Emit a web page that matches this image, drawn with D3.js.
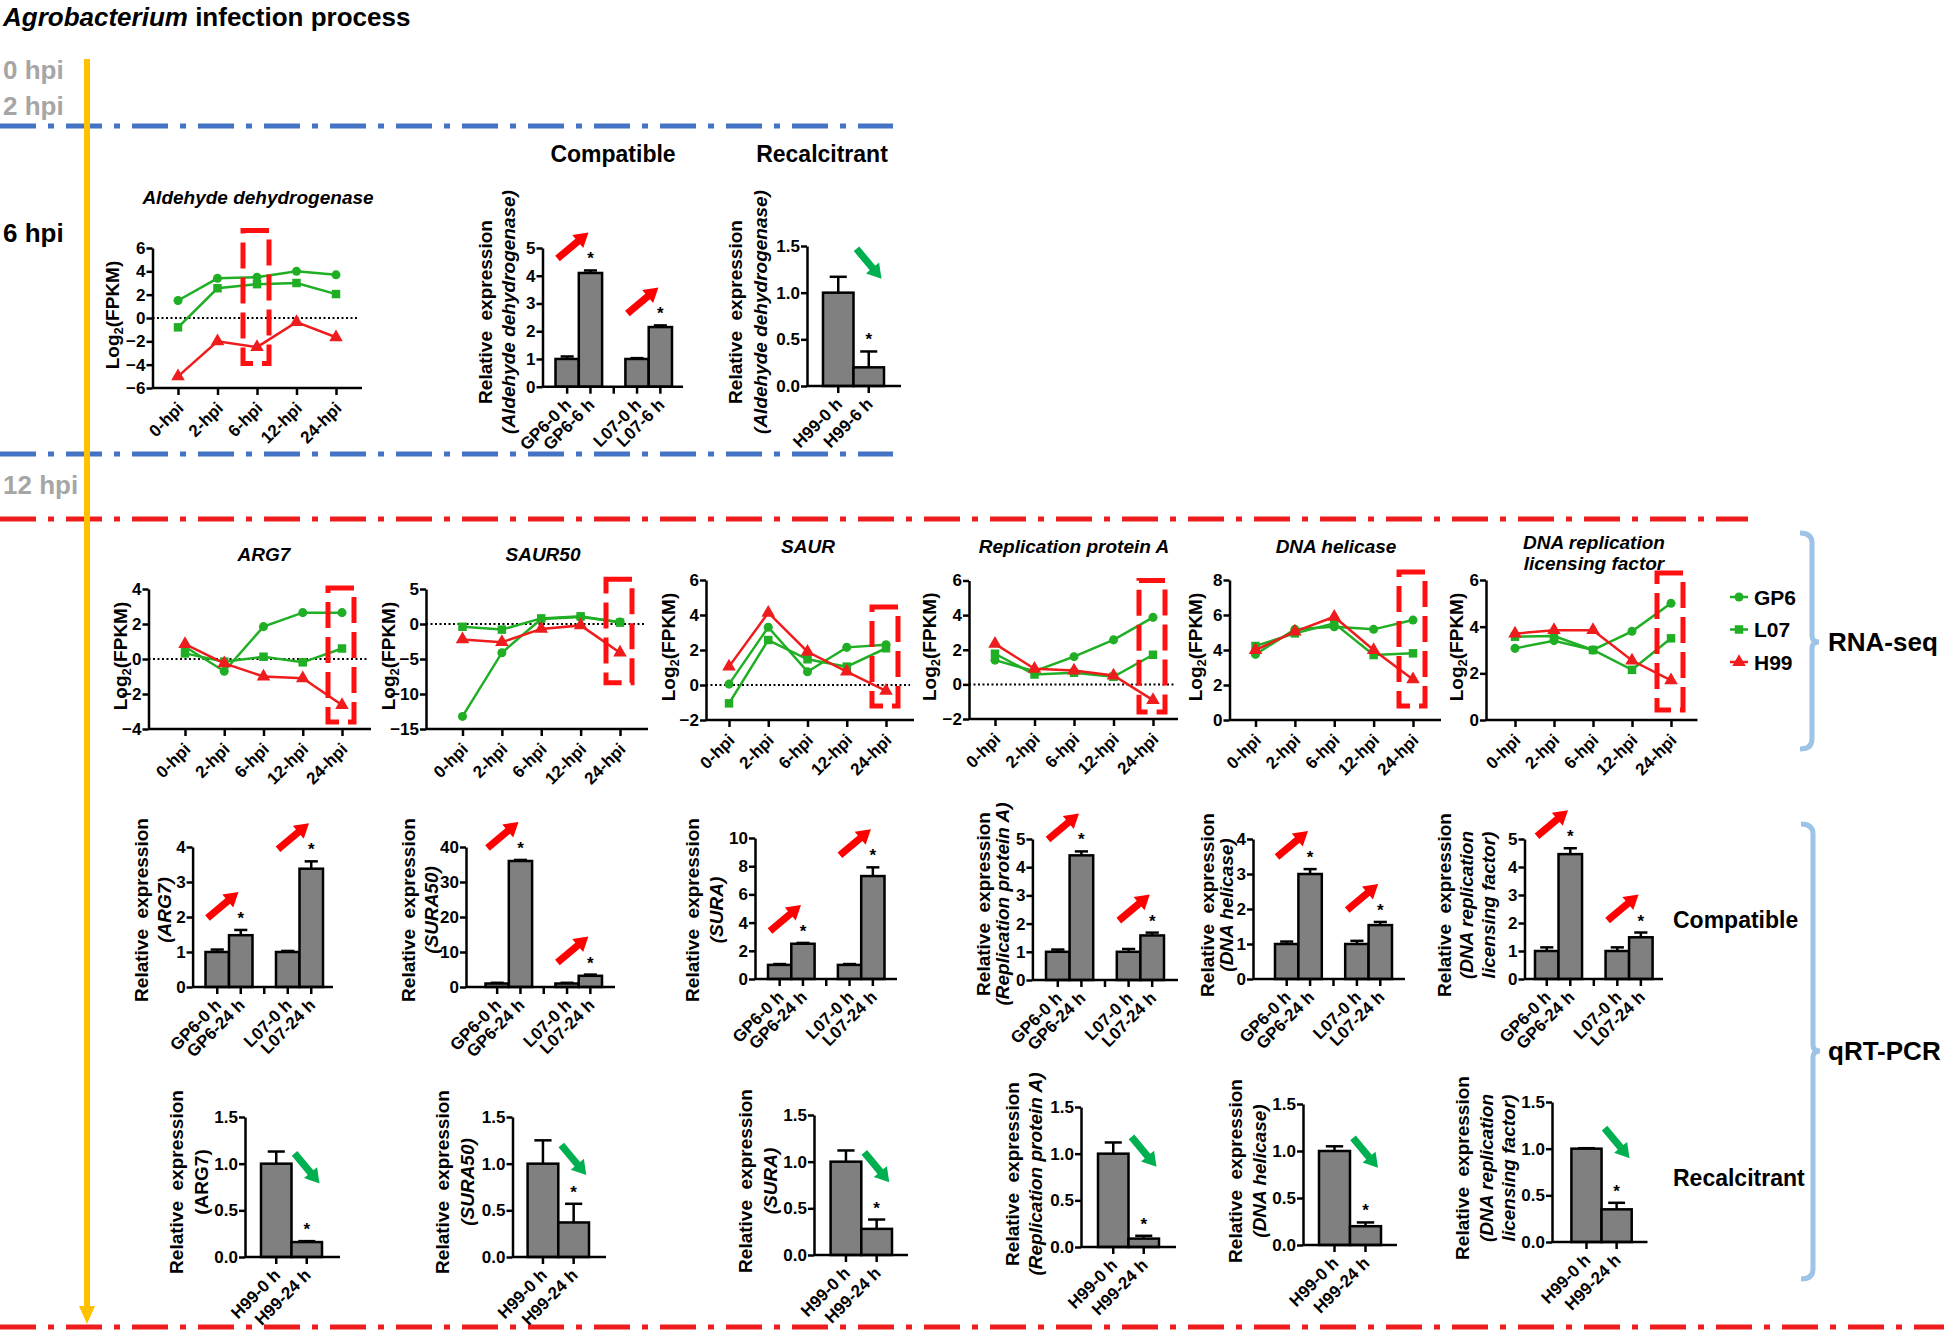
<!DOCTYPE html>
<html>
<head>
<meta charset="utf-8">
<script src="https://cdn.jsdelivr.net/npm/d3@7.9.0/dist/d3.min.js"></script>
<style>
  body { margin: 0; background: #fff; }
  svg { display: block; }
</style>
</head>
<body>
<div id="chart"></div>
<script>
// ---- data ----
const hpi = ['0-hpi', '2-hpi', '6-hpi', '12-hpi', '24-hpi'];
const rnaTitles = [['Aldehyde dehydrogenase'], ['ARG7'], ['SAUR50'], ['SAUR'], ['Replication protein A'], ['DNA helicase'], ['DNA replication', 'licensing factor']];
const rnaTicks = [[-6, -4, -2, 0, 2, 4, 6], [-4, -2, 0, 2, 4], [-15, -10, -5, 0, 5], [-2, 0, 2, 4, 6], [-2, 0, 2, 4, 6], [0, 2, 4, 6, 8], [0, 2, 4, 6]];
const rnaGP6 = [[1.5, 3.4, 3.5, 4.0, 3.7], [0.7, -0.7, 1.85, 2.65, 2.65], [-13.2, -4.1, 0.7, 1.0, 0.3], [0.05, 3.3, 0.76, 2.15, 2.3], [1.4, 0.76, 1.6, 2.57, 3.87], [3.75, 5.18, 5.33, 5.18, 5.71], [3.07, 3.4, 3.0, 3.8, 5.0]];
const rnaL07 = [[-0.8, 2.55, 2.9, 3.0, 2.05], [0.32, -0.15, 0.13, -0.19, 0.6], [-0.4, -0.8, 0.8, 1.1, 0.2], [-1.05, 2.57, 1.47, 1.05, 2.1], [1.77, 0.57, 0.67, 0.44, 1.71], [4.23, 4.95, 5.52, 3.71, 3.81], [3.57, 3.6, 3.0, 2.15, 3.5]];
const rnaH99 = [[-5.0, -2.0, -2.5, -0.35, -1.65], [0.85, -0.25, -1.0, -1.1, -2.63], [-2.2, -2.6, -0.7, -0.2, -4.1], [1.05, 4.13, 1.9, 0.76, -0.34], [2.34, 0.9, 0.8, 0.51, -0.91], [4.0, 5.05, 5.9, 4.0, 2.32], [3.7, 3.85, 3.85, 2.55, 1.7]];

const compatLabels6 = ['GP6-0 h', 'GP6-6 h', 'L07-0 h', 'L07-6 h'];
const compatLabels24 = ['GP6-0 h', 'GP6-24 h', 'L07-0 h', 'L07-24 h'];
const recalcLabels6 = ['H99-0 h', 'H99-6 h'];
const recalcLabels24 = ['H99-0 h', 'H99-24 h'];
const qrtGenes = [['(Aldehyde dehydrogenase)'], ['(ARG7)'], ['(SURA50)'], ['(SURA)'], ['(Replication protein A)'], ['(DNA helicase)'], ['(DNA replication', 'licensing factor)']];
const compatTicks = [[0, 1, 2, 3, 4, 5], [0, 1, 2, 3, 4], [0, 10, 20, 30, 40], [0, 2, 4, 6, 8, 10], [0, 1, 2, 3, 4, 5], [0, 1, 2, 3, 4], [0, 1, 2, 3, 4, 5]];
const compatMean = [[1.0, 4.1, 1.0, 2.15], [1.0, 1.48, 1.0, 3.38], [1.0, 36.0, 1.0, 3.2], [1.0, 2.5, 1.0, 7.3], [1.0, 4.42, 1.0, 1.58], [1.0, 3.0, 1.0, 1.54], [1.0, 4.46, 1.0, 1.49]];
const compatSD = [[0.09, 0.09, 0.03, 0.06], [0.07, 0.15, 0.03, 0.21], [0.2, 0.3, 0.2, 0.35], [0.06, 0.06, 0.06, 0.62], [0.08, 0.14, 0.1, 0.1], [0.07, 0.14, 0.09, 0.09], [0.13, 0.21, 0.13, 0.17]];
const recalcTicks = [0, 0.5, 1.0, 1.5];
const recalcMean = [[1.0, 0.2], [1.0, 0.16], [1.0, 0.37], [1.0, 0.28], [1.0, 0.09], [1.0, 0.2], [1.0, 0.35]];
const recalcSD = [[0.17, 0.17], [0.13, 0.01], [0.25, 0.2], [0.12, 0.1], [0.12, 0.03], [0.05, 0.04], [0.005, 0.07]];

// ---- layout (pixel positions of each small panel) ----
const rnaLayout = [
  { ax: 152.5, axEnd: 362, top: 248, bot: 388, px: [178, 336], tx: 258, ty: 197, lx: 112, boxAt: 2, box: [7.5, -3.9] },
  { ax: 148.5, axEnd: 371, top: 589, bot: 729, px: [185, 342], tx: 264, ty: 554, lx: 120, boxAt: 4, box: [4.06, -3.6] },
  { ax: 426, axEnd: 648, top: 589, bot: 729, px: [462.5, 620], tx: 543, ty: 554, lx: 388, boxAt: 4, box: [6.4, -8.4] },
  { ax: 706, axEnd: 914, top: 580, bot: 720, px: [729, 886], tx: 808, ty: 546, lx: 668, boxAt: 4, box: [4.46, -1.2] },
  { ax: 969, axEnd: 1178, top: 580.5, bot: 719, px: [995, 1153], tx: 1074, ty: 546, lx: 929, boxAt: 4, box: [6.0, -1.6] },
  { ax: 1229.5, axEnd: 1441, top: 580, bot: 720, px: [1255.5, 1413], tx: 1336, ty: 546, lx: 1195, boxAt: 4, box: [8.46, 0.8] },
  { ax: 1486, axEnd: 1697.5, top: 580, bot: 720, px: [1515, 1671], tx: 1594, ty: 542, lx: 1456, boxAt: 4, box: [6.3, 0.43] },
];
const compatLayout = [
  { ax: 542.5, axEnd: 683, top: 248, bot: 386.7, band: [555.5, 672], lx: [485, 508], ly: 312 },
  { ax: 192.6, axEnd: 333, top: 847, bot: 987, band: [205.5, 323], lx: [141, 164], ly: 910 },
  { ax: 466, axEnd: 615, top: 847, bot: 987, band: [485.5, 602], lx: [408, 431], ly: 910 },
  { ax: 755, axEnd: 897, top: 838, bot: 979, band: [768, 884.5], lx: [692, 716], ly: 910 },
  { ax: 1032.4, axEnd: 1178, top: 839, bot: 980, band: [1046, 1164], lx: [983, 1002], ly: 904 },
  { ax: 1253, axEnd: 1405, top: 839, bot: 979, band: [1275, 1392], lx: [1207, 1226], ly: 905 },
  { ax: 1524.5, axEnd: 1663, top: 839, bot: 979, band: [1535, 1652.6], lx: [1444, 1466, 1488], ly: 905 },
];
const recalcLayout = [
  { ax: 807, axEnd: 901, top: 246, bot: 386, band: [823, 884], lx: [735, 760], ly: 312, arrowY: 1.47 },
  { ax: 245, axEnd: 340, top: 1117, bot: 1257, band: [261, 322], lx: [176, 201], ly: 1182, arrowY: 1.11 },
  { ax: 512.5, axEnd: 606, top: 1117, bot: 1257, band: [527.6, 589], lx: [442, 467.6], ly: 1182, arrowY: 1.2 },
  { ax: 814, axEnd: 908, top: 1115, bot: 1255, band: [830.6, 892], lx: [745, 770.6], ly: 1181, arrowY: 1.10 },
  { ax: 1081, axEnd: 1176, top: 1107, bot: 1247, band: [1098, 1159], lx: [1012, 1035.6], ly: 1174, arrowY: 1.18 },
  { ax: 1303, axEnd: 1397, top: 1104, bot: 1245, band: [1319, 1381], lx: [1235, 1259], ly: 1171, arrowY: 1.14 },
  { ax: 1552, axEnd: 1647.5, top: 1102, bot: 1242, band: [1571.4, 1631.7], lx: [1462, 1486, 1508], ly: 1168, arrowY: 1.22 },
];

const FONT = '"Liberation Sans", Arial, Helvetica, sans-serif';
const GREEN = '#1fae24';
const RED = '#ee1c1c';
const BLUE = '#4472c4';
const LIGHTBLUE = '#9dc3e6';
const ORANGE = '#ffc000';
const GRAY_TEXT = '#a6a6a6';
const TICK_FONT = 17;

const svg = d3.select('#chart').append('svg')
  .attr('width', 1944).attr('height', 1332)
  .attr('font-family', FONT).attr('font-weight', 'bold');

svg.append('rect').attr('width', 1944).attr('height', 1332).attr('fill', '#fff');

// ---- separators ----
function sepLine(y, x2, color) {
  svg.append('line')
    .attr('x1', 0).attr('x2', x2).attr('y1', y).attr('y2', y)
    .attr('stroke', color).attr('stroke-width', 5)
    .attr('stroke-dasharray', '36,12,6,12');
}
sepLine(126, 893, BLUE);
sepLine(454, 893, BLUE);
sepLine(519, 1748, RED);
sepLine(1327, 1944, RED);

// ---- headings ----
const title = svg.append('text').attr('x', 3).attr('y', 26).attr('font-size', 26);
title.append('tspan').attr('font-style', 'italic').text('Agrobacterium');
title.append('tspan').text(' infection process');

const stages = [
  { t: '0 hpi', y: 70, c: GRAY_TEXT },
  { t: '2 hpi', y: 106, c: GRAY_TEXT },
  { t: '6 hpi', y: 233, c: '#000' },
  { t: '12 hpi', y: 485, c: GRAY_TEXT },
];
svg.selectAll('text.stage').data(stages).join('text')
  .attr('class', 'stage')
  .attr('x', 3).attr('y', d => d.y).attr('dy', '0.36em')
  .attr('font-size', 26).attr('fill', d => d.c)
  .text(d => d.t);

svg.append('text').attr('x', 613).attr('y', 154).attr('dy', '0.36em')
  .attr('text-anchor', 'middle').attr('font-size', 23).text('Compatible');
svg.append('text').attr('x', 822).attr('y', 154).attr('dy', '0.36em')
  .attr('text-anchor', 'middle').attr('font-size', 23).text('Recalcitrant');

// ---- helpers ----
function styleAxis(sel) {
  sel.attr('font-family', FONT).attr('font-size', TICK_FONT).attr('font-weight', 'bold');
  sel.selectAll('path, line').attr('stroke', '#000').attr('stroke-width', 2.5);
  sel.selectAll('text').attr('fill', '#000');
}

function rotateTicks(sel, ox, oy) {
  sel.selectAll('text')
    .attr('x', 0).attr('y', 0).attr('dy', '0.35em')
    .attr('text-anchor', 'end')
    .attr('transform', `translate(${ox},${oy}) rotate(-45)`);
}

function arrow(x1, y1, x2, y2, color) {
  const dx = x2 - x1, dy = y2 - y1, len = Math.hypot(dx, dy);
  const ux = dx / len, uy = dy / len, nx = -uy, ny = ux;
  const sw = 3.6, hw = 8.5, hl = 14;
  const bx = x2 - ux * hl, by = y2 - uy * hl;
  const pts = [
    [x1 + nx * sw, y1 + ny * sw],
    [bx + nx * sw, by + ny * sw],
    [bx + nx * hw, by + ny * hw],
    [x2, y2],
    [bx - nx * hw, by - ny * hw],
    [bx - nx * sw, by - ny * sw],
    [x1 - nx * sw, y1 - ny * sw],
  ];
  svg.append('polygon').attr('points', pts.map(p => p.join(',')).join(' ')).attr('fill', color);
}

function qrtLabel(L, geneLines, italicGene) {
  const all = ['Relative  expression'].concat(geneLines);
  all.forEach((t, k) => {
    svg.append('text')
      .attr('transform', `translate(${L.lx[k]},${L.ly}) rotate(-90)`)
      .attr('text-anchor', 'middle').attr('dy', '0.36em')
      .attr('font-size', 19)
      .attr('font-style', k > 0 && italicGene ? 'italic' : 'normal')
      .style('white-space', 'pre')
      .text(t);
  });
}

// ---- RNA-seq line panels ----
const seriesStyle = [
  { name: 'GP6', color: GREEN, sym: d3.symbolCircle, size: 64, data: rnaGP6 },
  { name: 'L07', color: GREEN, sym: d3.symbolSquare, size: 72, data: rnaL07 },
  { name: 'H99', color: RED, sym: d3.symbolTriangle, size: 80, data: rnaH99 },
];

function drawRna(i) {
  const L = rnaLayout[i];
  const ticks = rnaTicks[i];
  const y = d3.scaleLinear().domain(d3.extent(ticks)).range([L.bot, L.top]);
  const x = d3.scalePoint().domain(hpi).range(L.px);
  const g = svg.append('g');

  // zero reference
  if (y.domain()[0] < 0) {
    g.append('line')
      .attr('x1', L.ax).attr('x2', L.axEnd - 4)
      .attr('y1', y(0)).attr('y2', y(0))
      .attr('stroke', '#000').attr('stroke-width', 2)
      .attr('stroke-dasharray', '2,2.5');
  }

  g.append('g').attr('transform', `translate(${L.ax},0)`)
    .call(d3.axisLeft(y).tickValues(ticks).tickFormat(d3.format('d')).tickSize(6).tickSizeOuter(0).tickPadding(1))
    .call(styleAxis);

  const xa = g.append('g').attr('transform', `translate(0,${L.bot})`)
    .call(d3.axisBottom(x).tickSize(7).tickSizeOuter(0));
  xa.select('.domain').remove();
  xa.append('line').attr('x1', L.ax).attr('x2', L.axEnd);
  xa.call(styleAxis).call(rotateTicks, 2, 17);

  const line = d3.line().x((d, k) => x(hpi[k])).y(d => y(d));
  seriesStyle.forEach(s => {
    const vals = s.data[i];
    g.append('path').attr('d', line(vals))
      .attr('fill', 'none').attr('stroke', s.color).attr('stroke-width', 2.5);
    g.selectAll(null).data(vals).join('path')
      .attr('transform', (d, k) => `translate(${x(hpi[k])},${y(d)})`)
      .attr('d', d3.symbol().type(s.sym).size(s.size))
      .attr('fill', s.color);
  });

  // highlighted time point
  const bx = x(hpi[L.boxAt]);
  g.append('rect')
    .attr('x', bx - 14).attr('width', 26)
    .attr('y', y(L.box[0])).attr('height', y(L.box[1]) - y(L.box[0]))
    .attr('fill', 'none').attr('stroke', '#ff1010').attr('stroke-width', 5)
    .attr('stroke-dasharray', '26,9');

  rnaTitles[i].forEach((t, k) => {
    g.append('text').attr('x', L.tx).attr('y', L.ty + k * 21).attr('dy', '0.36em')
      .attr('text-anchor', 'middle').attr('font-size', 19).attr('font-style', 'italic')
      .text(t);
  });

  const lab = g.append('text')
    .attr('transform', `translate(${L.lx},${(L.top + L.bot) / 2 - 3}) rotate(-90)`)
    .attr('text-anchor', 'middle').attr('dy', '0.36em').attr('font-size', 19);
  lab.append('tspan').text('Log');
  lab.append('tspan').attr('font-size', 13).attr('dy', 4).text('2');
  lab.append('tspan').attr('dy', -4).text('(FPKM)');
}

// ---- qRT-PCR bar panels ----
function drawBars(L, labels, domainKeys, means, sds, ticks, fmt) {
  const x = d3.scaleBand().domain(domainKeys).range(L.band);
  const y = d3.scaleLinear().domain(d3.extent(ticks)).range([L.bot, L.top]);
  const g = svg.append('g');
  const bw = x.bandwidth();

  labels.forEach((lab, k) => {
    const x0 = x(lab), top = y(means[k]), errY = y(means[k] + sds[k]);
    g.append('line')
      .attr('x1', x0 + bw / 2).attr('x2', x0 + bw / 2).attr('y1', top).attr('y2', errY)
      .attr('stroke', '#000').attr('stroke-width', 2.5);
    g.append('line')
      .attr('x1', x0 + bw / 2 - bw * 0.28).attr('x2', x0 + bw / 2 + bw * 0.28)
      .attr('y1', errY).attr('y2', errY)
      .attr('stroke', '#000').attr('stroke-width', 2.5);
    g.append('rect')
      .attr('x', x0).attr('width', bw)
      .attr('y', top).attr('height', y(0) - top)
      .attr('fill', '#808080').attr('stroke', '#000').attr('stroke-width', 2.5);
  });

  g.append('g').attr('transform', `translate(${L.ax},0)`)
    .call(d3.axisLeft(y).tickValues(ticks).tickFormat(fmt).tickSize(6).tickSizeOuter(0).tickPadding(1))
    .call(styleAxis);

  const xa = g.append('g').attr('transform', `translate(0,${L.bot})`)
    .call(d3.axisBottom(x).tickSize(7).tickSizeOuter(0).tickFormat(d => d === 'gap' ? '' : d));
  xa.select('.domain').remove();
  xa.append('line').attr('x1', L.ax).attr('x2', L.axEnd);
  xa.call(styleAxis).call(rotateTicks, 1, 15);

  return { x, y, bw };
}

function star(x, y) {
  svg.append('text').attr('x', x).attr('y', y - 6)
    .attr('text-anchor', 'middle').attr('font-size', 17).text('*');
}

function drawCompat(i) {
  const L = compatLayout[i];
  const labels = i === 0 ? compatLabels6 : compatLabels24;
  const keys = [labels[0], labels[1], 'gap', labels[2], labels[3]];
  const m = compatMean[i], s = compatSD[i];
  const { x, y, bw } = drawBars(L, labels, keys, m, s, compatTicks[i], d3.format('d'));
  [1, 3].forEach(k => {
    const errY = y(m[k] + s[k]);
    star(x(labels[k]) + bw / 2, errY);
    const sx = x(labels[k - 1]) + 2, sy = errY - 12;
    arrow(sx, sy, sx + 31, sy - 26, '#ff0000');
  });
  qrtLabel(L, qrtGenes[i], true);
}

function drawRecalc(i) {
  const L = recalcLayout[i];
  const labels = i === 0 ? recalcLabels6 : recalcLabels24;
  const m = recalcMean[i], s = recalcSD[i];
  const { x, y, bw } = drawBars(L, labels, labels, m, s, recalcTicks, d3.format('.1f'));
  star(x(labels[1]) + bw / 2, y(m[1] + s[1]));
  const sx = x(labels[1]) + 3, sy = y(L.arrowY);
  arrow(sx, sy, sx + 25, sy + 30, '#00b050');
  qrtLabel(L, qrtGenes[i], i !== 1);
}

d3.range(rnaLayout.length).forEach(drawRna);
d3.range(compatLayout.length).forEach(drawCompat);
d3.range(recalcLayout.length).forEach(drawRecalc);

// ---- legend ----
const legend = svg.append('g');
seriesStyle.forEach((s, k) => {
  const ly = 597 + k * 32.5;
  legend.append('line').attr('x1', 1730).attr('x2', 1748).attr('y1', ly).attr('y2', ly)
    .attr('stroke', s.color).attr('stroke-width', 2.5);
  legend.append('path').attr('transform', `translate(1739,${ly})`)
    .attr('d', d3.symbol().type(s.sym).size(s.size)).attr('fill', s.color);
  legend.append('text').attr('x', 1754).attr('y', ly).attr('dy', '0.36em')
    .attr('font-size', 21).text(s.name);
});

// ---- brackets on the right ----
function bracket(x, y1, y2, ym) {
  const p = `M${x - 12},${y1} Q${x},${y1} ${x},${y1 + 10} L${x},${ym - 6} Q${x},${ym} ${x + 7},${ym} Q${x},${ym} ${x},${ym + 6} L${x},${y2 - 10} Q${x},${y2} ${x - 12},${y2}`;
  svg.append('path').attr('d', p).attr('fill', 'none')
    .attr('stroke', LIGHTBLUE).attr('stroke-width', 5);
}
bracket(1812, 533, 749, 642);
bracket(1813, 824, 1279, 1051);

const sideLabels = [
  { t: 'RNA-seq', x: 1828, y: 642, s: 26 },
  { t: 'qRT-PCR', x: 1828, y: 1051, s: 26 },
  { t: 'Compatible', x: 1673, y: 920, s: 23 },
  { t: 'Recalcitrant', x: 1673, y: 1178, s: 23 },
];
svg.selectAll('text.side').data(sideLabels).join('text')
  .attr('class', 'side')
  .attr('x', d => d.x).attr('y', d => d.y).attr('dy', '0.36em')
  .attr('font-size', d => d.s).text(d => d.t);

// ---- time arrow ----
svg.append('line').attr('x1', 87).attr('x2', 87).attr('y1', 59).attr('y2', 1310)
  .attr('stroke', ORANGE).attr('stroke-width', 6);
svg.append('polygon').attr('points', '79,1306 95,1306 87,1324').attr('fill', ORANGE);
</script>
</body>
</html>
